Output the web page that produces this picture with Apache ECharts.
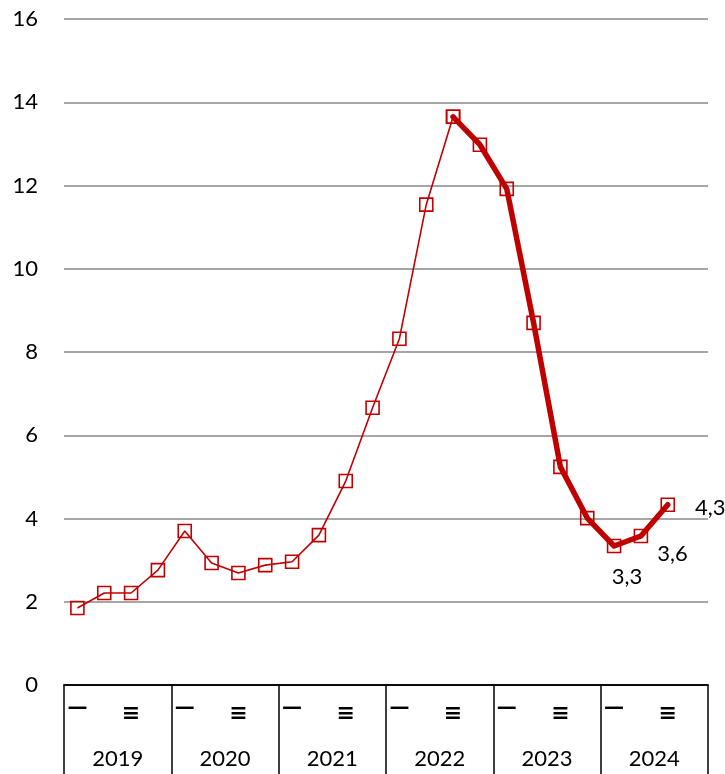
<!DOCTYPE html>
<html>
<head>
<meta charset="utf-8">
<script src="https://cdn.jsdelivr.net/npm/echarts@6/dist/echarts.min.js"></script>
<style>html,body{margin:0;padding:0;background:#fff}#c{width:725px;height:774px}</style>
</head>
<body>
<div id="c"></div>
<script>
var years = ['2019', '2020', '2021', '2022', '2023', '2024'];
var quarterLabels = ['—', '', '≡', ''];
var values = [1.85, 2.21, 2.21, 2.76, 3.70, 2.93, 2.69, 2.88, 2.96, 3.60, 4.90, 6.66,
              8.32, 11.54, 13.65, 12.98, 11.92, 8.70, 5.24, 4.01, 3.34, 3.58, 4.33];
var splitIndex = 14;           // thin line up to here, thick line from here
var labelIndices = [20, 21, 22];

var FONT = 'Lato, "Open Sans", sans-serif';
var RED = '#C00000';

var quarters = [];
years.forEach(function (y) { for (var q = 0; q < 4; q++) quarters.push(y + '-' + q); });

var labelStyles = {
  20: { position: 'bottom', distance: 13, offset: [13, 0] },
  21: { position: 'right', distance: 9, offset: [0, 18] },
  22: { position: 'right', distance: 20, offset: [0, 3] }
};

function fmt(v) { return v.toFixed(1).replace('.', ','); }

var thin = values.map(function (v, i) { return i <= splitIndex ? v : null; });
var thick = values.map(function (v, i) {
  if (i < splitIndex) return null;
  if (labelIndices.indexOf(i) >= 0) {
    var s = labelStyles[i];
    return {
      value: v,
      label: {
        show: true, position: s.position, distance: s.distance, offset: s.offset,
        formatter: fmt(v), color: '#000', fontSize: 22, fontFamily: FONT
      }
    };
  }
  return v;
});

var chart = echarts.init(document.getElementById('c'));
chart.setOption({
  animation: false,
  backgroundColor: '#fff',
  grid: { left: 64, right: 17, top: 19, bottom: 89 },
  xAxis: [
    {
      type: 'category', data: quarters, boundaryGap: true, position: 'bottom',
      axisLine: { show: true, lineStyle: { color: '#000', width: 1.5 } },
      axisTick: { show: false },
      axisLabel: {
        interval: 0, margin: 13, color: '#000', fontFamily: FONT,
        formatter: function (v) {
          var q = +v.split('-')[1];
          if (q === 0) return '{a|' + quarterLabels[0] + '}';
          if (q === 2) return '{b|' + quarterLabels[2] + '}';
          return '';
        },
        rich: {
          a: { fontSize: 20, fontFamily: '"DejaVu Sans"', color: '#000', fontWeight: 'bold', padding: [0, 0, 6, 0] },
          b: { fontSize: 22, fontFamily: '"DejaVu Sans"', color: '#000', fontWeight: 'bold', padding: [5, 0, 0, 0] }
        }
      },
      splitLine: { show: false }
    },
    {
      type: 'category', data: years, boundaryGap: true, position: 'bottom',
      axisLine: { show: true, lineStyle: { color: '#000', width: 1.5 } },
      axisTick: { show: true, length: 100, lineStyle: { color: '#000', width: 1.5 } },
      axisLabel: { margin: 63, color: '#000', fontSize: 22, fontFamily: FONT },
      splitLine: { show: false }
    }
  ],
  yAxis: {
    type: 'value', min: 0, max: 16, interval: 2,
    axisLine: { show: false }, axisTick: { show: false },
    axisLabel: { margin: 26, color: '#000', fontSize: 22, fontFamily: FONT },
    splitLine: { show: true, lineStyle: { color: '#A6A6A6', width: 2 } }
  },
  series: [
    {
      type: 'line', xAxisIndex: 0, data: thin, connectNulls: false,
      symbol: 'rect', symbolSize: 13, showAllSymbol: true,
      lineStyle: { color: RED, width: 1.6 },
      itemStyle: { color: 'rgba(0,0,0,0)', borderColor: RED, borderWidth: 1.6 },
      z: 3
    },
    {
      type: 'line', xAxisIndex: 0, data: thick, connectNulls: false,
      symbol: 'rect', symbolSize: 13, showAllSymbol: true,
      lineStyle: { color: RED, width: 5.5, cap: 'round', join: 'round' },
      itemStyle: { color: 'rgba(0,0,0,0)', borderColor: RED, borderWidth: 1.6 },
      z: 4
    }
  ]
});
</script>
</body>
</html>
